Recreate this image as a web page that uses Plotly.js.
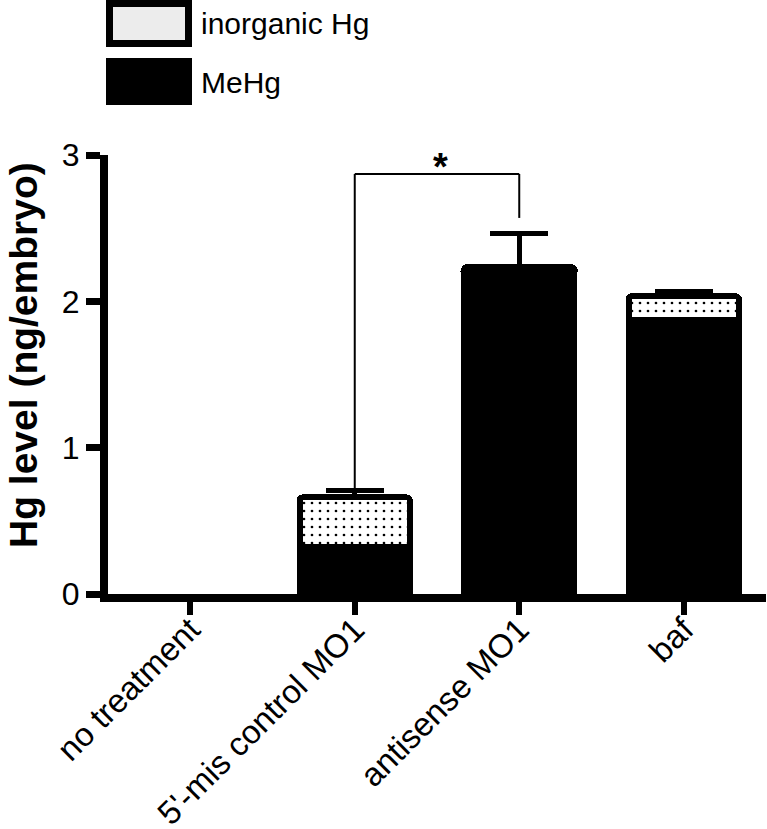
<!DOCTYPE html>
<html><head><meta charset="utf-8">
<script src="https://cdn.plot.ly/plotly-3.0.1.min.js"></script>
<style>html,body{margin:0;padding:0;background:#fff;} #chart{width:767px;height:829px;}</style>
</head><body><div id="chart"></div>
<script>
// ---- data ----
const categories = ['no treatment', "5'-mis control MO1", 'antisense MO1', 'baf'];
const meHg = [null, 0.32, 2.22, 1.87];
const inorganicHg = [null, 0.34, 0.013, 0.165];
const totalSEM = [null, 0.045, 0.233, 0.034];
const seriesNames = ['inorganic Hg', 'MeHg'];
const yTickVals = [0, 1, 2, 3];
const yTickText = ['0', '1', '2', '3'];
const sigPair = [1, 2];        // category indices compared
const sigLegTops = [0.705, 2.57];
const sigBarY = 2.87;
const sigLabel = '*';
const yTitle = 'Hg level (ng/embryo)';

// ---- layout helpers ----
const W = 767, H = 829;
const M = {l: 108, r: 1, t: 155, b: 235};
const pw = W - M.l - M.r, ph = H - M.t - M.b;
const px = x => (x - M.l) / pw;
const py = y => (H - M.b - y) / ph;
const FONT = 'Liberation Sans, Arial, Helvetica, sans-serif';

const traces = [
  {
    type: 'bar', name: seriesNames[1], x: categories, y: meHg,
    width: 0.67,
    marker: {color: '#000', line: {color: '#000', width: 6}},
    showlegend: false, hoverinfo: 'skip'
  },
  {
    type: 'bar', name: seriesNames[0], x: categories, y: inorganicHg,
    width: 0.67,
    marker: {
      color: '#fff',
      line: {color: '#000', width: 6},
      pattern: {shape: '.', fgcolor: '#000', bgcolor: '#fff', size: 8, solidity: 0.09, fillmode: 'replace'},
      cornerradius: 3
    },
    error_y: {type: 'data', symmetric: false, array: totalSEM, arrayminus: totalSEM.map(() => 0),
      color: '#000', thickness: 5, width: 29, visible: true},
    showlegend: false, hoverinfo: 'skip'
  }
];

const shapes = [
  // significance bracket
  {type: 'line', xref: 'x', yref: 'y', x0: sigPair[0], x1: sigPair[0], y0: sigLegTops[0], y1: sigBarY, line: {color: '#000', width: 2}},
  {type: 'line', xref: 'x', yref: 'y', x0: sigPair[0], x1: sigPair[1], y0: sigBarY, y1: sigBarY, line: {color: '#000', width: 2}},
  {type: 'line', xref: 'x', yref: 'y', x0: sigPair[1], x1: sigPair[1], y0: sigLegTops[1], y1: sigBarY, line: {color: '#000', width: 2}},
  // legend swatches
  {type: 'rect', xref: 'paper', yref: 'paper', x0: px(109.5), x1: px(188.5), y0: py(3.5), y1: py(43.5),
    fillcolor: '#ececec', line: {color: '#000', width: 7}},
  {type: 'rect', xref: 'paper', yref: 'paper', x0: px(106), x1: px(192), y0: py(58), y1: py(105),
    fillcolor: '#000', line: {width: 0}}
];

const annotations = [
  {xref: 'paper', yref: 'paper', x: px(199), y: py(24), xanchor: 'left', yanchor: 'middle',
    text: seriesNames[0], showarrow: false, font: {family: FONT, size: 30, color: '#000'}},
  {xref: 'paper', yref: 'paper', x: px(199), y: py(82), xanchor: 'left', yanchor: 'middle',
    text: seriesNames[1], showarrow: false, font: {family: FONT, size: 30, color: '#000'}},
  {xref: 'x', yref: 'y', x: (sigPair[0] + sigPair[1]) / 2 + 0.02, y: sigBarY + 0.045, xanchor: 'center', yanchor: 'middle',
    text: '<b>' + sigLabel + '</b>', showarrow: false, font: {family: FONT, size: 38, color: '#000'}},
  {xref: 'paper', yref: 'paper', x: px(23), y: py(355), xanchor: 'center', yanchor: 'middle', textangle: -90,
    text: '<b>' + yTitle + '</b>', showarrow: false, font: {family: FONT, size: 39, color: '#000'}}
];

const layout = {
  width: W, height: H,
  margin: M,
  paper_bgcolor: '#fff', plot_bgcolor: '#fff',
  barmode: 'stack',
  showlegend: false,
  font: {family: FONT, color: '#000'},
  xaxis: {
    type: 'category', range: [-0.5, 3.5], fixedrange: true,
    showline: true, linecolor: '#000', linewidth: 8,
    ticks: 'outside', ticklen: 13, tickwidth: 6, tickcolor: '#000',
    tickangle: -45, tickfont: {family: FONT, size: 33, color: '#000'},
    ticklabelstandoff: -18,
    showgrid: false, zeroline: false
  },
  yaxis: {
    range: [0, 3], fixedrange: true,
    tickvals: yTickVals, ticktext: yTickText,
    showline: true, linecolor: '#000', linewidth: 8,
    ticks: 'outside', ticklen: 14, tickwidth: 7, tickcolor: '#000',
    tickfont: {family: FONT, size: 32, color: '#000'},
    showgrid: false, zeroline: false
  },
  shapes: shapes,
  annotations: annotations
};

Plotly.newPlot('chart', traces, layout, {staticPlot: true, displayModeBar: false});
</script>
</body></html>
